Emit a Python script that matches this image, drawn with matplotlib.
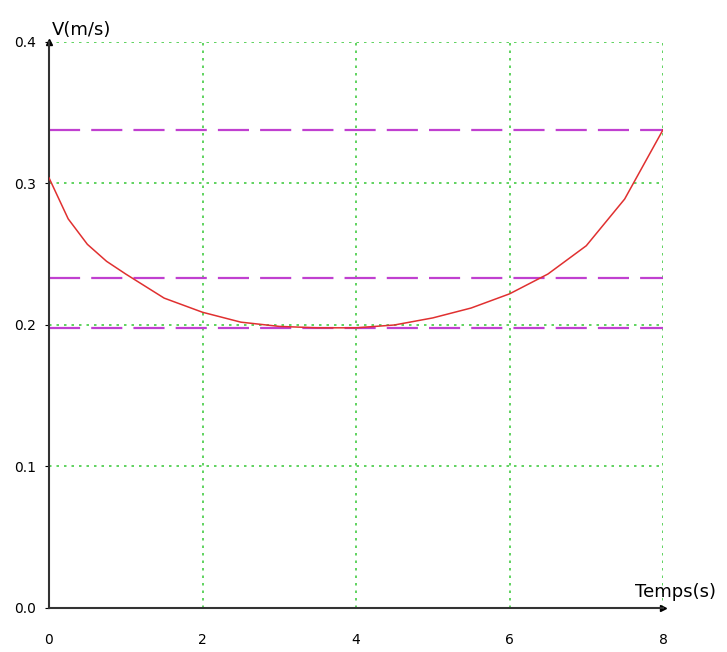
import numpy as np
import matplotlib.pyplot as plt

# vitesse
temps = [0, 0.25, 0.5, 0.75, 1, 1.5, 2, 2.5, 3, 3.5, 4, 4.5, 5, 5.5, 6, 6.5, 7, 7.5, 8]
vitesse = [0.304, 0.275, 0.257, 0.245, 0.236, 0.219, 0.209, 0.202, 0.199, 0.198,
           0.198, 0.200, 0.205, 0.212, 0.222, 0.236, 0.256, 0.289, 0.338]
niveaux = [0.338, 0.233, 0.198]   # lignes horizontales en tirets

x_ticks = [0, 2, 4, 6, 8]
y_ticks = [0.0, 0.1, 0.2, 0.3, 0.4]
y_labels = ["0.0", "0.1", "0.2", "0.3", "0.4"]

fig = plt.figure(figsize=(7.27, 6.52), dpi=100)
ax = fig.add_axes([0.0674, 0.0675, 0.8446, 0.8681])

# grille verte pointillée
for xv in x_ticks[1:]:
    ax.axvline(xv, color="#44cc44", ls=(0, (1.5, 3)), lw=1.2, zorder=1)
for yv in y_ticks[1:]:
    ax.axhline(yv, color="#44cc44", ls=(0, (1.5, 3)), lw=1.2, zorder=1)

for nv in niveaux:
    ax.axhline(nv, color="#c040d0", ls=(0, (14, 5)), lw=1.6, zorder=2)

ax.plot(temps, vitesse, color="#e03030", lw=1.1, zorder=3)

ax.set_xlim(0, 8)
ax.set_ylim(0, 0.4)
ax.set_xticks(x_ticks)
ax.set_yticks(y_ticks)
ax.set_yticklabels(y_labels)
ax.tick_params(axis="x", length=0, pad=18, labelsize=10)
ax.tick_params(axis="y", length=3, pad=6, labelsize=10)

for s in ["top", "right"]:
    ax.spines[s].set_visible(False)
for s in ["left", "bottom"]:
    ax.spines[s].set_linewidth(1.5)
    ax.spines[s].set_color("#333333")

# flèches des axes
ax.plot(1, 0, ">k", markersize=5, transform=ax.transAxes, clip_on=False)
ax.plot(0, 1, "^k", markersize=5, transform=ax.transAxes, clip_on=False)

ax.text(0.005, 1.005, "V(m/s)", transform=ax.transAxes, fontsize=13,
        ha="left", va="bottom", family="Liberation Sans Narrow")
ax.text(0.955, 0.012, "Temps(s)", transform=ax.transAxes, fontsize=13,
        ha="left", va="bottom", family="Liberation Sans Narrow")

fig.savefig("out.png", dpi=100)
